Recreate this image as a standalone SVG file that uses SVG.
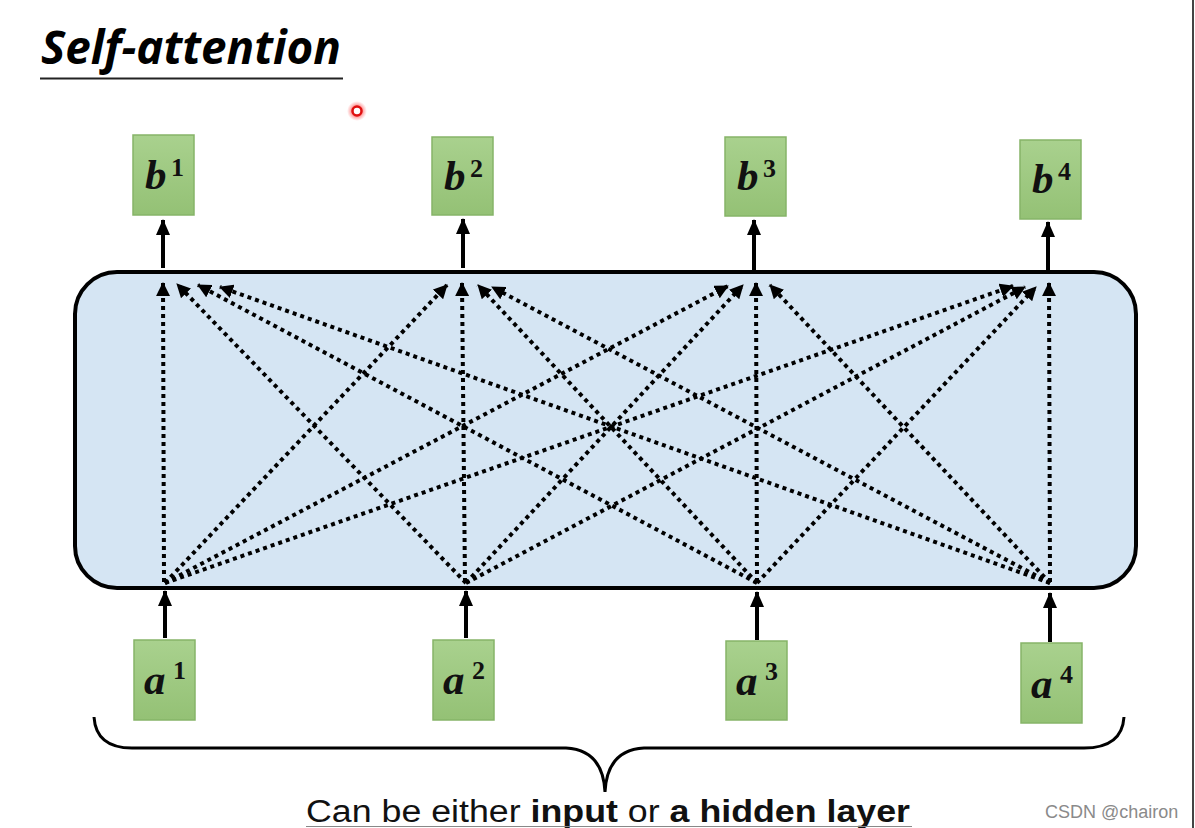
<svg xmlns="http://www.w3.org/2000/svg" width="1195" height="828" viewBox="0 0 1195 828">
<style>
.box{fill:url(#g);stroke:#86b468;stroke-width:1.5}
.lab{font-family:"Liberation Serif",serif;font-weight:bold;font-style:italic;font-size:43px;fill:#111}
.sup{font-family:"Liberation Serif",serif;font-weight:bold;font-size:26px;fill:#111}
.dot{fill:none;stroke:#000;stroke-width:4;stroke-dasharray:4 4;marker-end:url(#ad)}
.sol{fill:none;stroke:#000;stroke-width:4;marker-end:url(#as)}
</style>
<defs>
<linearGradient id="g" x1="0" y1="0" x2="0" y2="1">
<stop offset="0" stop-color="#a9d18e"/>
<stop offset="1" stop-color="#94c175"/>
</linearGradient>
<radialGradient id="rd">
<stop offset="0.4" stop-color="#ff3030" stop-opacity="0.7"/>
<stop offset="1" stop-color="#ff6060" stop-opacity="0"/>
</radialGradient>
<marker id="ad" markerUnits="userSpaceOnUse" markerWidth="14" markerHeight="14" viewBox="0 0 14 14" refX="13" refY="7" orient="auto">
<path d="M0,0 L14,7 L0,14 Z" fill="#000"/>
</marker>
<marker id="as" markerUnits="userSpaceOnUse" markerWidth="16" markerHeight="14" viewBox="0 0 16 14" refX="15" refY="7" orient="auto">
<path d="M0,0 L16,7 L0,14 Z" fill="#000"/>
</marker>
</defs>
<rect width="1195" height="828" fill="#fff"/>
<line x1="1193" y1="0" x2="1193" y2="828" stroke="#444" stroke-width="2"/>

<g id="title">
<text x="41" y="64" font-family="'Open Sans','Liberation Sans',sans-serif" font-weight="bold" font-style="italic" font-size="47" textLength="300" lengthAdjust="spacingAndGlyphs" fill="#000">Self-attention</text>
<line x1="40" y1="78.5" x2="343" y2="78.5" stroke="#222" stroke-width="2"/>
</g>

<g id="pointer">
<circle cx="357" cy="111" r="10" fill="url(#rd)"/>
<circle cx="357" cy="111" r="4.5" fill="#fff" stroke="#e01010" stroke-width="2.5"/>
</g>

<g id="layer">
<rect x="75" y="272" width="1061" height="316" rx="42" fill="#d5e5f3" stroke="#000" stroke-width="4"/>
</g>

<g id="connectors">
<path class="sol" d="M163,268 V220"/>
<path class="sol" d="M463,268 V219"/>
<path class="sol" d="M754,270 V220"/>
<path class="sol" d="M1048,272 V222"/>
<path class="sol" d="M165,638 V591"/>
<path class="sol" d="M466,638 V591"/>
<path class="sol" d="M757,640 V592"/>
<path class="sol" d="M1050,642 V593"/>
<path class="dot" d="M164,582 L163,283"/>
<path class="dot" d="M466,583 L177,284"/>
<path class="dot" d="M757,583 L198,285"/>
<path class="dot" d="M1050,583 L220,287"/>
<path class="dot" d="M165,583 L447,285"/>
<path class="dot" d="M465,582 L462,283"/>
<path class="dot" d="M757,583 L478,285"/>
<path class="dot" d="M1050,583 L492,287"/>
<path class="dot" d="M165,583 L728,286"/>
<path class="dot" d="M466,583 L743,285"/>
<path class="dot" d="M757,582 L756,283"/>
<path class="dot" d="M1050,583 L770,285"/>
<path class="dot" d="M165,583 L1013,286"/>
<path class="dot" d="M466,583 L1025,287"/>
<path class="dot" d="M757,583 L1036,287"/>
<path class="dot" d="M1050,582 L1049,283"/>
</g>

<g id="b1"><rect class="box" x="133" y="135" width="61" height="80"/><text class="lab" x="145" y="189">b</text><text class="sup" x="171" y="176">1</text></g>
<g id="b2"><rect class="box" x="432" y="137" width="61" height="78"/><text class="lab" x="444" y="190">b</text><text class="sup" x="470" y="177">2</text></g>
<g id="b3"><rect class="box" x="725" y="137" width="61" height="79"/><text class="lab" x="737" y="190">b</text><text class="sup" x="763" y="177">3</text></g>
<g id="b4"><rect class="box" x="1020" y="140" width="61" height="79"/><text class="lab" x="1032" y="193">b</text><text class="sup" x="1058" y="180">4</text></g>

<g id="a1"><rect class="box" x="134" y="640" width="61" height="80"/><text class="lab" x="144" y="694">a</text><text class="sup" x="173" y="679">1</text></g>
<g id="a2"><rect class="box" x="433" y="640" width="61" height="80"/><text class="lab" x="443" y="694">a</text><text class="sup" x="472" y="679">2</text></g>
<g id="a3"><rect class="box" x="726" y="641" width="61" height="79"/><text class="lab" x="736" y="695">a</text><text class="sup" x="765" y="680">3</text></g>
<g id="a4"><rect class="box" x="1021" y="643" width="61" height="80"/><text class="lab" x="1031" y="698">a</text><text class="sup" x="1060" y="683">4</text></g>

<g id="brace">
<path d="M94,717 Q96,748 132,748 L566,748 Q603,750 605,792 Q607,750 644,748 L1084,748 Q1122,748 1124,717" fill="none" stroke="#000" stroke-width="3"/>
</g>

<g id="caption">
<text x="306" y="822" font-family="'Liberation Sans',sans-serif" font-size="31" textLength="604" lengthAdjust="spacingAndGlyphs" fill="#111">Can be either <tspan font-weight="bold">input</tspan> or <tspan font-weight="bold">a hidden layer</tspan></text>
<line x1="306" y1="826.5" x2="912" y2="826.5" stroke="#888" stroke-width="1"/>
</g>

<g id="watermark">
<text x="1045" y="818" font-family="'Liberation Sans',sans-serif" font-size="18" fill="#8a8a8a">CSDN @chairon</text>
</g>
</svg>
